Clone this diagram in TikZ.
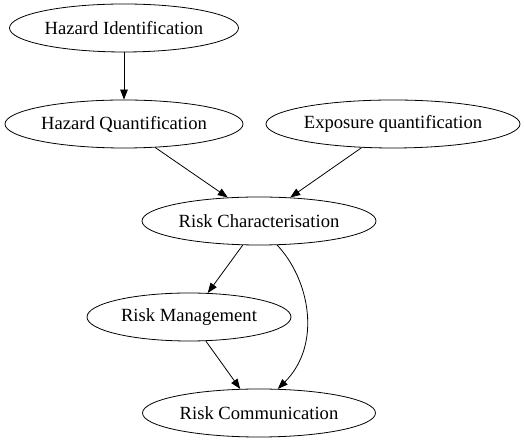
\documentclass[tikz,border=0pt]{standalone}
\usepackage{fontspec}
\setmainfont{Liberation Serif}
\usetikzlibrary{shapes.geometric,arrows.meta}
\begin{document}
\begin{tikzpicture}[x=1bp,y=1bp,
  ell/.style={draw,ellipse,inner sep=0pt,minimum height=48bp,font=\fontsize{18.6bp}{20bp}\selectfont,line width=0.8pt},
  edge/.style={-{Triangle[length=10bp,width=7.5bp]},line width=0.8pt}]
\useasboundingbox (0,0) rectangle (525,443);
\node[ell,minimum width=229bp] (hi) at (124,415) {Hazard Identification};
\node[ell,minimum width=238bp] (hq) at (124,319) {Hazard Quantification};
\node[ell,minimum width=254bp] (eq) at (393,319) {Exposure quantification};
\node[ell,minimum width=234bp] (rc) at (259,222) {Risk Characterisation};
\node[ell,minimum width=204bp] (rm) at (189,126) {Risk Management};
\node[ell,minimum width=233bp] (rcm) at (259,30) {Risk Communication};
\draw[edge] (hi) -- (hq);
\draw[edge] (hq.-37) -- (rc.143);
\draw[edge] (eq.-143) -- (rc.37);
\draw[edge] (rc.-124) -- (rm.52);
\draw[edge] (rm.-55) -- (rcm.128);
\draw[edge] (rc.-53) .. controls (310,163) and (322,98) .. (rcm.52);
\end{tikzpicture}
\end{document}
